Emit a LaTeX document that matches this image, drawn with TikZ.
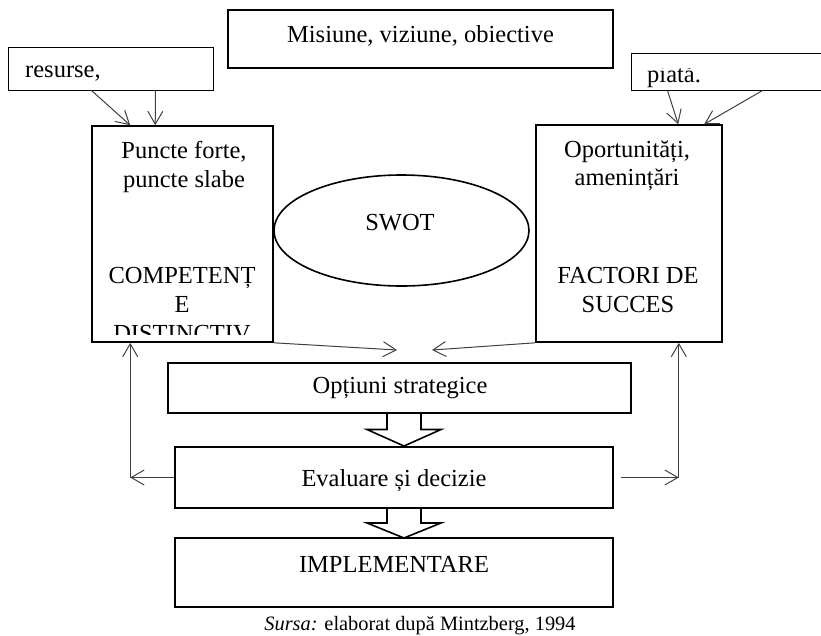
\documentclass[tikz,border=0pt]{standalone}
\usepackage{fontspec}
\setmainfont{Liberation Serif}
\usetikzlibrary{calc,arrows.meta,shapes.geometric}

\begin{document}
\begin{tikzpicture}[x=1pt,y=-1pt,>={Straight Barb[length=13pt,width=15pt]}]
%===DEF. COMPONENTS====
\def\blockarrow(#1,#2,#3){
 \begin{scope}[shift={(#1,#2)}]
 \draw[fat] (-17,0) -- (-17,#3/2) -- (-37,#3/2) -- (0,#3) -- (37,#3/2) -- (17,#3/2) -- (17,0);
 \end{scope}
}
\tikzset{box/.style ={draw, rectangle, line width=1.6pt, inner sep=0pt},
 thinbox/.style ={draw, rectangle, line width=1pt, inner sep=0pt},
 txt/.style ={inner sep=0pt, anchor=base, font=\fontsize{24.5}{29}\selectfont},
 link/.style ={draw=black!75, line width=1pt},
 fat/.style ={draw, line width=1.6pt}}
\useasboundingbox (0,0) rectangle (821,635);
\clip (0,0) rectangle (821,635);
%===boxes===
\node[box, minimum width=385, minimum height=58] (mis) at (420.5,39) {};
\node[thinbox, minimum width=205, minimum height=43] (res) at (110.5,68.5) {};
\node[thinbox, minimum width=199, minimum height=37] (pia) at (730.5,71.5) {};
\node[box, minimum width=181, minimum height=216] (pf) at (182.5,234) {};
\node[box, minimum width=186, minimum height=217] (op) at (629,233.5) {};
\node[box, ellipse, minimum width=255, minimum height=111] (swot) at (401.5,230.5) {};
\node[box, minimum width=463, minimum height=50] (opt) at (399.5,388) {};
\node[box, minimum width=438, minimum height=61] (ev) at (394,477.5) {};
\node[box, minimum width=438, minimum height=69] (imp) at (394,572.5) {};
%===texts===
\node[txt] (tmis) at (420.5,42) {Misiune, viziune, obiective};
\node[txt, anchor=base west] (tres) at (25,77) {resurse,};
\begin{scope}
 \clip ($(pia.north west)+(0,16)$) rectangle (pia.south east);
 \node[txt, anchor=base west] (tpia) at (647,82) {piată.};
\end{scope}
\node[txt] (tpf1) at (184,158) {Puncte forte,};
\node[txt] (tpf2) at (184,187) {puncte slabe};
\node[txt] (tpf3) at (182,283) {COMPETENȚ};
\node[txt] (tpf4) at (182,312) {E};
\begin{scope}
 \clip (pf.north west) rectangle ($(pf.south east)+(0,-8)$);
 \node[txt] (tpf5) at (182,341) {DISTINCTIV};
\end{scope}
\node[txt] (top1) at (627,157) {Oportunități,};
\node[txt] (top2) at (627,185) {amenințări};
\node[txt] (top3) at (628,283) {FACTORI DE};
\node[txt] (top4) at (628,312) {SUCCES};
\node[txt] (tswot) at (400,230) {SWOT};
\node[txt] (topt) at (400,393) {Opțiuni strategice};
\node[txt] (tev) at (394,486) {Evaluare și decizie};
\node[txt] (timp) at (394,572) {IMPLEMENTARE};
\node[txt, font=\fontsize{20.4}{24}\selectfont] (src) at (420,630) {\textit{Sursa:} elaborat după Mintzberg, 1994};
%===inputs===
\draw[link,->] ($(res.south west)+(84,0)$) -- ($(pf.north west)+(39,0)$);
\draw[link,->] ($(res.south west)+(148,0)$) -- ($(pf.north west)+(64,0)$);
\draw[link,->] ($(pia.south west)+(37,0)$) -- ($(op.north west)+(143,0)$);
\draw[link,->] ($(pia.south west)+(132,0)$) -- ($(op.north west)+(169,0)$);
%===towards options===
\coordinate (ml) at (397,350);
\coordinate (mr) at (432,350);
\draw[link,->] (pf.south east) -- (ml);
\draw[link,->] (op.south west) -- (mr);
%===block arrows===
\blockarrow(404,413,33)
\blockarrow(404,508,30)
%===feedback===
\coordinate (fl) at ($(ev.west)+(-44,0)$);
\coordinate (fr) at ($(ev.east)+(65,0)$);
\draw[link,->] (ev.west) -- (fl);
\draw[link,->] (fl) -- (fl |- pf.south);
\draw[link,->] ($(ev.east)+(7,0)$) -- (fr);
\draw[link,->] (fr) -- (fr |- op.south);
\end{tikzpicture}
\end{document}
